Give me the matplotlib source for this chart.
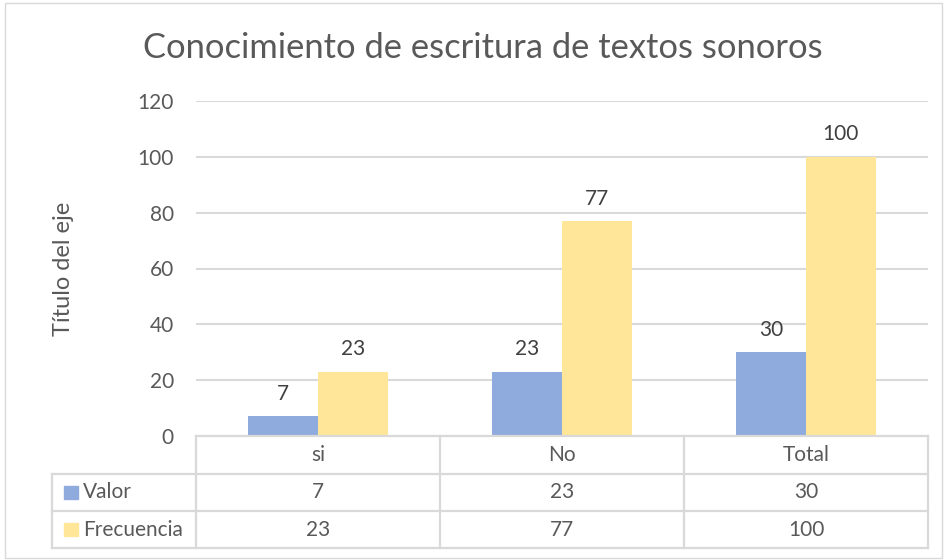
import numpy as np
import matplotlib.pyplot as plt
from matplotlib.lines import Line2D
from matplotlib.patches import Rectangle
import matplotlib.transforms as mtransforms

# Datos
categorias = ["si", "No", "Total"]
valor = [7, 23, 30]
frecuencia = [23, 77, 100]
series = ["Valor", "Frecuencia"]

azul = "#8FAADC"
amarillo = "#FFE699"
gris_texto = "#595959"
gris_linea = "#D9D9D9"
fs = 15

plt.rcParams['font.family'] = ['Lato', 'DejaVu Sans']

W, H = 944, 560
fig = plt.figure(figsize=(W / 100, H / 100), dpi=100)

# Ejes en coordenadas de pixel
x0, x1 = 196, 928
y_top, y_bot = 101, 436
ax = fig.add_axes([x0 / W, 1 - y_bot / H, (x1 - x0) / W, (y_bot - y_top) / H])

x = np.arange(len(categorias))
w = 1 / 3.5
b1 = ax.bar(x - w / 2, valor, w, color=azul)
b2 = ax.bar(x + w / 2, frecuencia, w, color=amarillo)

for barras, vals in ((b1, valor), (b2, frecuencia)):
    for rect, v in zip(barras, vals):
        ax.annotate(str(v), (rect.get_x() + rect.get_width() / 2, v),
                    xytext=(0, 9), textcoords="offset points",
                    ha="center", va="bottom", fontsize=fs, color="#404040")

ax.set_xlim(-0.5, 2.5)
ax.set_ylim(0, 120)
ax.set_yticks(range(0, 121, 20))
ax.yaxis.grid(True, color=gris_linea, linewidth=1.5)
ax.set_axisbelow(True)
ax.set_xticks([])
for s in ax.spines.values():
    s.set_visible(False)
ax.tick_params(axis="y", length=0, pad=16, labelsize=fs, labelcolor=gris_texto)
ax.set_ylabel("Título del eje", fontsize=17, color=gris_texto, labelpad=46)

fig.text(483 / W, 1 - 48 / H, "Conocimiento de escritura de textos sonoros",
         ha="center", va="center", fontsize=24.8, color=gris_texto)

# Tabla de datos debajo del eje
tr = mtransforms.blended_transform_factory(ax.transData, ax.transAxes)
ah = (y_bot - y_top)
filas = [0.0, -(474 - y_bot) / ah, -(511 - y_bot) / ah, -(548 - y_bot) / ah]
izq = -(x0 - 52) / (x1 - x0)

def linea(xs, ys, trans):
    ax.add_line(Line2D(xs, ys, transform=trans, color=gris_linea, lw=1.6, clip_on=False))

# horizontales
linea([-0.5, 2.5], [filas[0], filas[0]], tr)
for yf in filas[1:]:
    linea([izq, 1], [yf, yf], ax.transAxes)
# verticales
linea([izq, izq], [filas[1], filas[3]], ax.transAxes)
for xv in [-0.5, 0.5, 1.5, 2.5]:
    linea([xv, xv], [filas[0], filas[3]], tr)

for i, c in enumerate(categorias):
    ax.text(i, (filas[0] + filas[1]) / 2, c, transform=tr, ha="center", va="center",
            fontsize=fs, color=gris_texto)
    ax.text(i, (filas[1] + filas[2]) / 2, str(valor[i]), transform=tr, ha="center",
            va="center", fontsize=fs, color=gris_texto)
    ax.text(i, (filas[2] + filas[3]) / 2, str(frecuencia[i]), transform=tr, ha="center",
            va="center", fontsize=fs, color=gris_texto)

for j, (nombre, col) in enumerate(zip(series, [azul, amarillo])):
    yc = (filas[j + 1] + filas[j + 2]) / 2
    fig.patches.append(Rectangle((64 / W, 1 - (474 + 37 * j + 25) / H), 14 / W, 13 / H,
                                 transform=fig.transFigure, color=col))
    ax.text(izq + 31 / (x1 - x0), yc, nombre, transform=ax.transAxes, ha="left",
            va="center", fontsize=fs, color=gris_texto)

# borde del grafico
fig.patches.append(Rectangle((5 / W, 2 / H), 937 / W, 555 / H, transform=fig.transFigure,
                             fill=False, edgecolor=gris_linea, lw=1))

fig.savefig("out.png", dpi=100)
